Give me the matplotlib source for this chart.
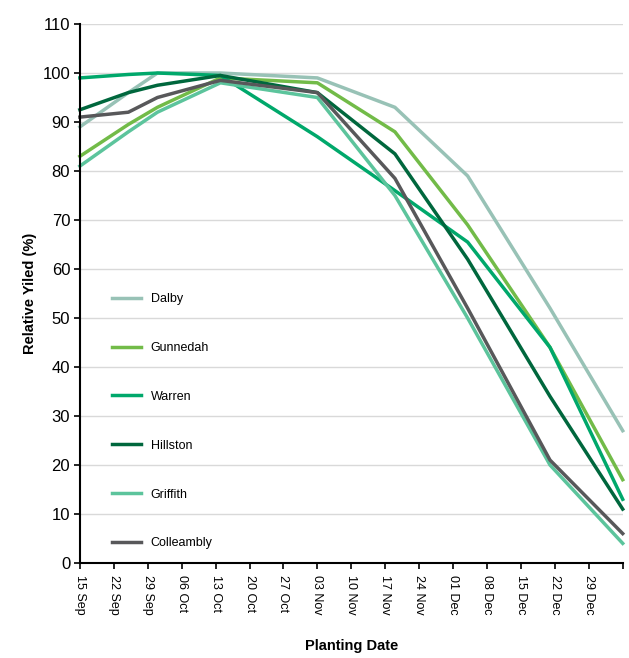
import matplotlib
matplotlib.use("Agg")
import matplotlib.pyplot as plt
import matplotlib.transforms as mtransforms

plt.rcParams["font.family"] = ["Liberation Sans", "DejaVu Sans"]

# days after 15 Sep for each plotted point
plant_days = [0, 10, 16, 29, 49, 65, 80, 97, 112]

sites = ["Dalby", "Gunnedah", "Warren", "Hillston", "Griffith", "Colleambly"]
dalby = [89, 96, 100, 100, 99, 93, 79, 52, 27]
gunnedah = [83, 89.5, 93, 99, 98, 88, 69, 44, 17]
warren = [99, 99.7, 100, 99.5, 87, 76, 65.5, 44, 13]
hillston = [92.5, 96, 97.5, 99.5, 96, 83.5, 62, 34, 11]
griffith = [81, 88, 92, 98, 95, 75, 50, 20, 4]
colleambly = [91, 92, 95, 98.5, 96, 78.5, 52, 21, 6]

tick_labels = ["15 Sep", "22 Sep", "29 Sep", "06 Oct", "13 Oct", "20 Oct",
               "27 Oct", "03 Nov", "10 Nov", "17 Nov", "24 Nov", "01 Dec",
               "08 Dec", "15 Dec", "22 Dec", "29 Dec"]

colors = ["#98c2b6", "#72bb48", "#00a86b", "#00673d", "#5cc49c", "#58585a"]

fig = plt.figure(figsize=(6.29, 6.58), dpi=100)
ax = fig.add_axes([0.127, 0.1444, 0.863, 0.8191])

series = [dalby, gunnedah, warren, hillston, griffith, colleambly]
for name, vals, c in zip(sites, series, colors):
    ax.plot(plant_days, vals, color=c, lw=2.5, label=name,
            solid_joinstyle="round", clip_on=False)

ax.set_xlim(0, 112)
ax.set_ylim(0, 110)
ax.set_yticks(range(0, 111, 10))
ax.set_xticks(range(0, 113, 7))
ax.set_xticklabels(tick_labels + [""], rotation=-90, fontsize=9,
                   va="top", ha="center")
offset = mtransforms.ScaledTranslation(0.08, 0, fig.dpi_scale_trans)
for lab in ax.get_xticklabels():
    lab.set_transform(lab.get_transform() + offset)

ax.tick_params(axis="y", labelsize=12, length=4, width=1.2, pad=3)
ax.tick_params(axis="x", length=4, width=1.2, pad=5)
ax.yaxis.grid(True, color="#d9d9d9", lw=1)
ax.set_axisbelow(True)
for s in ["top", "right"]:
    ax.spines[s].set_visible(False)
for s in ["left", "bottom"]:
    ax.spines[s].set_linewidth(1.5)

ax.set_ylabel("Relative Yiled (%)", fontsize=10.5, fontweight="bold", labelpad=4)
ax.set_xlabel("Planting Date", fontsize=10.5, fontweight="bold", labelpad=17)

ax.legend(loc="upper left", bbox_to_anchor=(0.05, 0.51), frameon=False,
          fontsize=9, labelspacing=2.95, handlelength=2.3,
          handletextpad=0.8, borderaxespad=0)

fig.savefig("out.png", dpi=100)
